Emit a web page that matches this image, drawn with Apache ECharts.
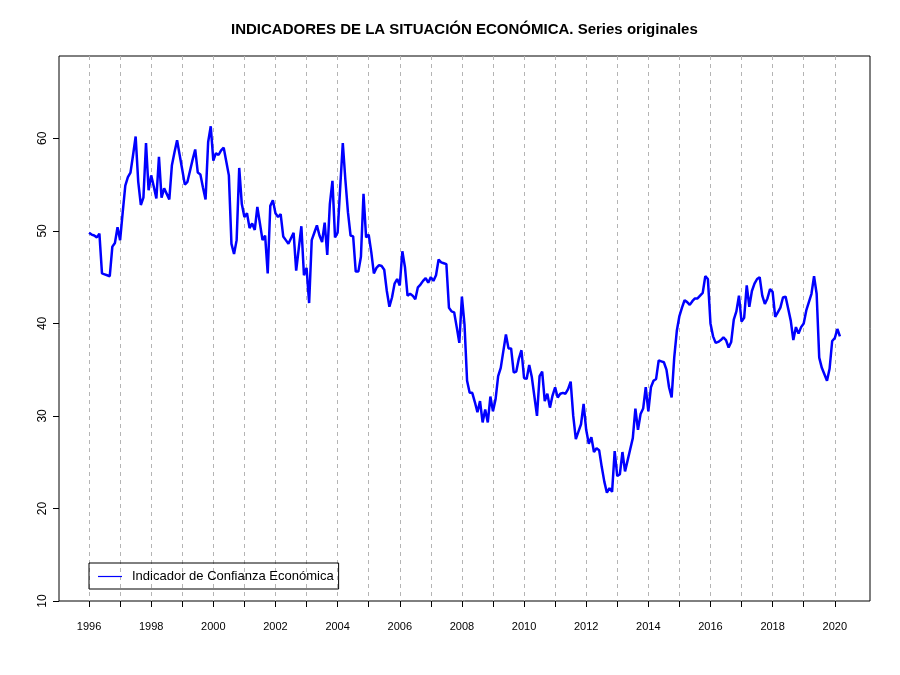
<!DOCTYPE html>
<html>
<head>
<meta charset="utf-8">
<script src="https://cdn.jsdelivr.net/npm/echarts@6/dist/echarts.min.js"></script>
<style>
  html, body { margin: 0; padding: 0; background: #fff; }
  #chart { width: 900px; height: 675px; }
</style>
</head>
<body>
<div id="chart"></div>
<script>
// Indicador de Confianza Económica, valores mensuales (ene-dic)
var y1996 = [49.8, 49.6, 49.5, 49.3, 49.7, 45.4, 45.3, 45.2, 45.1, 48.3, 48.7, 50.4];
var y1997 = [49.0, 52.0, 54.9, 55.8, 56.3, 58.2, 60.2, 55.3, 52.8, 53.6, 59.5, 54.4];
var y1998 = [56.0, 54.8, 53.5, 58.0, 53.6, 54.6, 54.0, 53.4, 57.1, 58.5, 59.8, 58.2];
var y1999 = [56.6, 55.0, 55.3, 56.5, 57.7, 58.8, 56.3, 56.1, 54.7, 53.4, 59.6, 61.3];
var y2000 = [57.6, 58.4, 58.2, 58.7, 59.0, 57.5, 56.0, 48.6, 47.5, 49.0, 56.8, 52.9];
var y2001 = [51.5, 51.9, 50.3, 50.8, 50.1, 52.6, 50.8, 49.0, 49.5, 45.4, 52.7, 53.3];
var y2002 = [51.9, 51.5, 51.8, 49.4, 49.0, 48.6, 49.2, 49.8, 45.7, 48.1, 50.5, 45.2];
var y2003 = [46.0, 42.2, 49.0, 49.8, 50.6, 49.5, 48.8, 50.9, 47.4, 52.9, 55.4, 49.3];
var y2004 = [49.8, 54.7, 59.5, 55.5, 52.0, 49.5, 49.4, 45.6, 45.6, 47.2, 54.0, 49.3];
var y2005 = [49.6, 47.7, 45.4, 46.0, 46.3, 46.2, 45.8, 43.5, 41.8, 42.8, 44.3, 44.8];
var y2006 = [44.1, 47.8, 46.1, 43.0, 43.2, 43.0, 42.6, 43.9, 44.2, 44.6, 44.9, 44.4];
var y2007 = [45.0, 44.6, 45.2, 46.9, 46.6, 46.5, 46.4, 41.7, 41.3, 41.2, 39.6, 37.9];
var y2008 = [42.9, 39.9, 33.8, 32.5, 32.5, 31.5, 30.4, 31.6, 29.3, 30.7, 29.3, 32.1];
var y2009 = [30.5, 31.8, 34.3, 35.2, 37.0, 38.8, 37.3, 37.3, 34.7, 34.8, 36.2, 37.1];
var y2010 = [34.1, 34.0, 35.5, 34.2, 32.1, 30.0, 34.3, 34.8, 31.6, 32.4, 30.9, 32.2];
var y2011 = [33.1, 32.0, 32.4, 32.5, 32.4, 32.9, 33.7, 30.0, 27.5, 28.3, 29.1, 31.3];
var y2012 = [28.5, 27.0, 27.7, 26.1, 26.5, 26.3, 24.5, 22.9, 21.7, 22.2, 21.8, 26.2];
var y2013 = [23.5, 23.7, 26.1, 24.0, 25.2, 26.4, 27.6, 30.8, 28.5, 30.2, 30.8, 33.1];
var y2014 = [30.5, 33.1, 33.8, 34.0, 36.0, 35.9, 35.8, 35.0, 33.1, 32.0, 36.3, 39.2];
var y2015 = [40.8, 41.7, 42.5, 42.3, 42.0, 42.4, 42.7, 42.7, 43.0, 43.3, 45.1, 44.8];
var y2016 = [40.0, 38.6, 37.9, 38.0, 38.2, 38.5, 38.2, 37.4, 38.0, 40.4, 41.3, 43.0];
var y2017 = [40.2, 40.6, 44.1, 41.8, 43.5, 44.3, 44.8, 45.0, 43.0, 42.1, 42.7, 43.7];
var y2018 = [43.4, 40.7, 41.2, 41.7, 42.8, 42.9, 41.6, 40.3, 38.2, 39.6, 38.9, 39.6];
var y2019 = [40.0, 41.4, 42.3, 43.2, 45.1, 43.2, 36.3, 35.2, 34.5, 33.8, 35.1, 38.1];
var y2020 = [38.4, 39.4, 38.6];

var years = [y1996, y1997, y1998, y1999, y2000, y2001, y2002, y2003, y2004, y2005,
  y2006, y2007, y2008, y2009, y2010, y2011, y2012, y2013, y2014, y2015,
  y2016, y2017, y2018, y2019, y2020];
var firstYear = 1996;

var xTicks = [1996, 1997, 1998, 1999, 2000, 2001, 2002, 2003, 2004, 2005, 2006, 2007,
  2008, 2009, 2010, 2011, 2012, 2013, 2014, 2015, 2016, 2017, 2018, 2019, 2020];
var xLabels = [1996, 1998, 2000, 2002, 2004, 2006, 2008, 2010, 2012, 2014, 2016, 2018, 2020];
var yTicks = [10, 20, 30, 40, 50, 60];

// serie (año + mes/12)
var serie = [];
years.forEach(function (vals, k) {
  vals.forEach(function (v, m) {
    serie.push([firstYear + k + m / 12, v]);
  });
});

var font = "'Liberation Sans', Arial, sans-serif";
var myChart = echarts.init(document.getElementById('chart'));

var option = {
  animation: false,
  backgroundColor: '#fff',
  title: {
    text: 'INDICADORES DE LA SITUACIÓN ECONÓMICA. Series originales',
    left: 231,
    top: 22,
    padding: 0,
    textStyle: { fontFamily: font, fontSize: 15, fontWeight: 'bold', color: '#000' }
  },
  legend: {
    left: 89,
    top: 563,
    padding: [7, 5, 6, 9],
    borderColor: '#000',
    borderWidth: 1,
    icon: 'rect',
    itemWidth: 24,
    itemHeight: 1.2,
    textStyle: { fontFamily: font, fontSize: 13, color: '#000', padding: [0, 0, 0, 5] },
    data: ['Indicador de Confianza Económica']
  },
  grid: {
    left: 59,
    top: 56,
    width: 811,
    height: 545,
    show: true,
    borderColor: '#000',
    borderWidth: 1,
    backgroundColor: 'transparent'
  },
  xAxis: {
    type: 'value',
    min: 1995.033,
    max: 2021.134,
    axisLine: { show: false },
    axisTick: {
      show: true,
      customValues: xTicks,
      length: 6,
      lineStyle: { color: '#000' }
    },
    axisLabel: {
      customValues: xLabels,
      formatter: function (v) { return String(v); },
      margin: 20,
      fontFamily: font,
      fontSize: 11,
      color: '#000'
    },
    splitLine: {
      show: true,
      lineStyle: { color: '#b4b4b4', type: [4, 4], width: 1 }
    }
  },
  yAxis: {
    type: 'value',
    min: 10,
    max: 68.9,
    interval: 10,
    axisLine: { show: false },
    axisTick: {
      show: true,
      customValues: yTicks,
      length: 6,
      lineStyle: { color: '#000' }
    },
    axisLabel: {
      customValues: yTicks,
      rotate: 90,
      margin: 10,
      fontFamily: font,
      fontSize: 12,
      color: '#000'
    },
    splitLine: { show: false }
  },
  series: [{
    name: 'Indicador de Confianza Económica',
    type: 'line',
    data: serie,
    showSymbol: false,
    symbol: 'none',
    itemStyle: { color: '#0000ff' },
    lineStyle: { color: '#0000ff', width: 2.5 }
  }]
};

myChart.setOption(option);
</script>
</body>
</html>
